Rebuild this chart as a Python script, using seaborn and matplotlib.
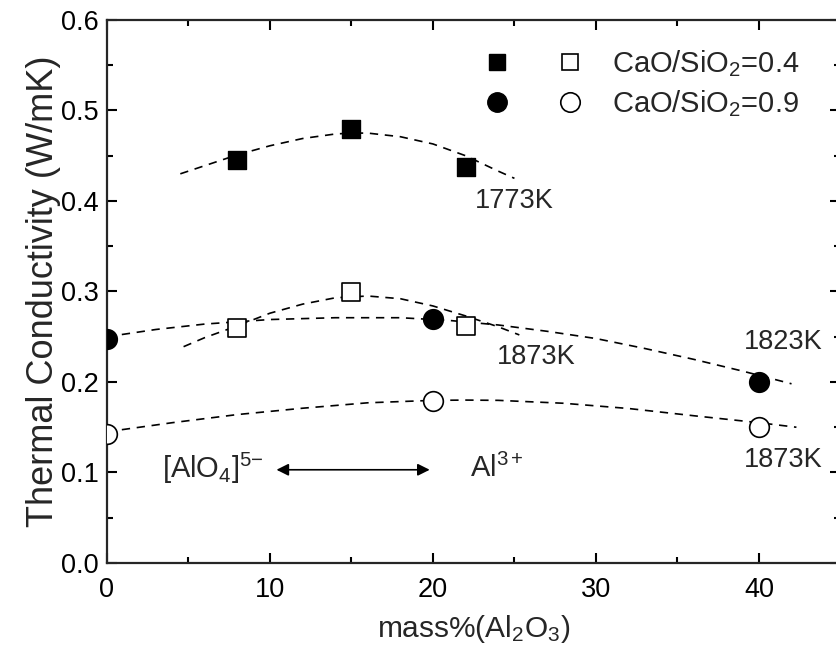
import matplotlib
matplotlib.use("Agg")
import matplotlib.pyplot as plt
import seaborn as sns
from matplotlib.legend_handler import HandlerTuple
from matplotlib.lines import Line2D
from matplotlib.ticker import MultipleLocator, FormatStrFormatter

# ---------------- data ----------------
sq_x = [8, 15, 22]
sq_1773_y = [0.445, 0.480, 0.437]          # CaO/SiO2 = 0.4, 1773K (filled)
sq_1873_y = [0.260, 0.299, 0.262]          # CaO/SiO2 = 0.4, 1873K (open)
ci_x = [0, 20, 40]
ci_1823_y = [0.248, 0.270, 0.200]          # CaO/SiO2 = 0.9, 1823K (filled)
ci_1873_y = [0.143, 0.179, 0.150]          # CaO/SiO2 = 0.9, 1873K (open)

# dashed trend curves
c1773_x = [4.5, 6, 8, 10, 12, 14, 15, 16, 18, 20, 22, 24, 25]
c1773_y = [0.430, 0.439, 0.451, 0.461, 0.469, 0.474, 0.475, 0.475, 0.471, 0.463, 0.450, 0.433, 0.425]
c1873a_x = [4.7, 6, 8, 10, 12, 14, 16, 18, 20, 22, 24, 25.3]
c1873a_y = [0.239, 0.249, 0.262, 0.276, 0.286, 0.293, 0.295, 0.292, 0.284, 0.273, 0.261, 0.252]
c1823_x = [0, 3, 6, 10, 14, 18, 21, 24, 27, 30, 33, 36, 39, 42]
c1823_y = [0.250, 0.258, 0.264, 0.269, 0.271, 0.271, 0.268, 0.263, 0.256, 0.248, 0.237, 0.225, 0.212, 0.198]
c1873b_x = [0, 4, 8, 12, 16, 20, 22, 24, 28, 32, 36, 40, 42.3]
c1873b_y = [0.145, 0.155, 0.164, 0.171, 0.177, 0.1797, 0.180, 0.1797, 0.1765, 0.1707, 0.1627, 0.155, 0.150]

legend_labels = [r"CaO/SiO$_2$=0.4", r"CaO/SiO$_2$=0.9"]
x_label = r"mass%(Al$_2$O$_3$)"
y_label = "Thermal Conductivity (W/mK)"

# ---------------- style ----------------
sns.set_theme(style="ticks")
plt.rcParams["font.family"] = ["Liberation Sans", "DejaVu Sans"]
plt.rcParams["mathtext.fontset"] = "custom"
plt.rcParams["mathtext.rm"] = "Liberation Sans"
plt.rcParams["mathtext.it"] = "Liberation Sans"

fig = plt.figure(figsize=(8.37, 6.46), dpi=100)
ax = fig.add_axes([0.1278, 0.1285, 0.8763, 0.8406])

for cx, cy in [(c1773_x, c1773_y), (c1873a_x, c1873a_y), (c1823_x, c1823_y), (c1873b_x, c1873b_y)]:
    sns.lineplot(x=cx, y=cy, ax=ax, color="black", lw=1.2, linestyle="--", sort=False)
for l in ax.lines:
    l.set_dashes((5, 4))

sns.scatterplot(x=sq_x, y=sq_1773_y, ax=ax, marker="s", s=150, color="black", edgecolor="black", zorder=3)
sns.scatterplot(x=sq_x, y=sq_1873_y, ax=ax, marker="s", s=150, facecolor="white", edgecolor="black", linewidth=1.2, zorder=3)
sns.scatterplot(x=ci_x, y=ci_1823_y, ax=ax, marker="o", s=200, color="black", edgecolor="black", zorder=3)
sns.scatterplot(x=ci_x, y=ci_1873_y, ax=ax, marker="o", s=200, facecolor="white", edgecolor="black", linewidth=1.2, zorder=3)

ax.set_xlim(0, 45)
ax.set_ylim(0, 0.6)
ax.xaxis.set_major_locator(MultipleLocator(10))
ax.xaxis.set_minor_locator(MultipleLocator(5))
ax.yaxis.set_major_locator(MultipleLocator(0.1))
ax.yaxis.set_minor_locator(MultipleLocator(0.05))
ax.yaxis.set_major_formatter(FormatStrFormatter("%.1f"))
for s in ax.spines.values():
    s.set_linewidth(1.6)
    s.set_visible(True)
ax.tick_params(which="both", direction="in", top=True, right=True, width=1.5, labelsize=19.5, colors="black")
ax.tick_params(axis="x", which="both", pad=10)
ax.tick_params(axis="y", which="both", pad=6)
ax.tick_params(which="major", length=7)
ax.tick_params(which="minor", length=4)
ax.set_xlabel(x_label, fontsize=21.5, labelpad=7)
ax.set_ylabel(y_label, fontsize=26, labelpad=0)

# legend
h_fsq = Line2D([], [], marker="s", ls="none", color="black", markersize=12)
h_osq = Line2D([], [], marker="s", ls="none", mfc="white", mec="black", markersize=12, mew=1.2)
h_fci = Line2D([], [], marker="o", ls="none", color="black", markersize=14)
h_oci = Line2D([], [], marker="o", ls="none", mfc="white", mec="black", markersize=14, mew=1.2)
ax.legend([(h_fsq, h_osq), (h_fci, h_oci)], legend_labels,
          handler_map={tuple: HandlerTuple(ndivide=None, pad=1.67)},
          loc="upper left", bbox_to_anchor=(0.4795, 0.996), frameon=False,
          fontsize=21, handlelength=3.33, handletextpad=1.02, labelspacing=0.32)

# annotations
ax.text(22.6, 0.40, "1773K", fontsize=19.5, va="center")
ax.text(23.9, 0.228, "1873K", fontsize=19.5, va="center")
ax.text(39.1, 0.244, "1823K", fontsize=19.5, va="center")
ax.text(39.1, 0.114, "1873K", fontsize=19.5, va="center")
ax.text(3.4, 0.105, r"[AlO$_4$]$^{5\mathrm{-}}$", fontsize=21, va="center")
ax.text(22.3, 0.105, r"Al$^{3+}$", fontsize=21, va="center")
ax.annotate("", xy=(19.8, 0.103), xytext=(10.4, 0.103),
            arrowprops=dict(arrowstyle="<|-|>", color="black", lw=1.2, mutation_scale=18,
                            shrinkA=0, shrinkB=0))

fig.savefig("out.png", dpi=100)
